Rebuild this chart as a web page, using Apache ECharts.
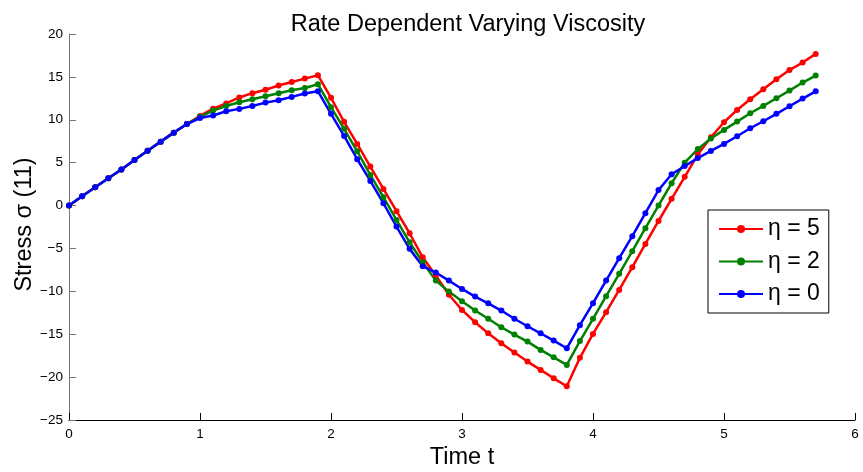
<!DOCTYPE html>
<html>
<head>
<meta charset="utf-8">
<script src="https://cdn.jsdelivr.net/npm/echarts@6/dist/echarts.min.js"></script>
<style>html,body{margin:0;padding:0;background:#fff;}#c{width:863px;height:472px;}</style>
</head>
<body>
<div id="c"></div>
<script>
var titleText = 'Rate Dependent Varying Viscosity';
var xName = 'Time t';
var yName = 'Stress \u03c3 (11)';
var seriesNames = ['\u03b7 = 5', '\u03b7 = 2', '\u03b7 = 0'];
var seriesColors = ['#ff0000', '#008000', '#0000ff'];

var time = [0.0,0.1,0.2,0.3,0.4,0.5,0.6,0.7,0.8,0.9,
            1.0,1.1,1.2,1.3,1.4,1.5,1.6,1.7,1.8,1.9,
            2.0,2.1,2.2,2.3,2.4,2.5,2.6,2.7,2.8,2.9,
            3.0,3.1,3.2,3.3,3.4,3.5,3.6,3.7,3.8,3.9,
            4.0,4.1,4.2,4.3,4.4,4.5,4.6,4.7,4.8,4.9,
            5.0,5.1,5.2,5.3,5.4,5.5,5.6,5.7];

var eta5 = [0, 1.08, 2.14, 3.18, 4.2, 5.3, 6.4, 7.45, 8.5, 9.5,
            10.45, 11.3, 11.9, 12.6, 13.1, 13.5, 14.0, 14.4, 14.8, 15.2,
            12.56, 9.76, 7.19, 4.55, 1.94, -0.66, -3.23, -6.03, -8.16, -10.4,
            -12.17, -13.6, -14.9, -16.06, -17.14, -18.19, -19.16, -20.14, -21.07, -17.75,
            -14.96, -12.43, -9.83, -7.19, -4.47, -1.8, 0.78, 3.35, 5.95, 7.96,
            9.71, 11.15, 12.39, 13.56, 14.72, 15.8, 16.67, 17.68];

var eta2 = [0, 1.08, 2.14, 3.18, 4.2, 5.3, 6.4, 7.45, 8.5, 9.5,
            10.35, 11.07, 11.6, 12.05, 12.4, 12.75, 13.1, 13.45, 13.7, 14.15,
            11.47, 8.94, 6.33, 3.57, 0.97, -1.67, -4.28, -6.61, -8.75, -10.03,
            -11.16, -12.24, -13.2, -14.19, -15.04, -15.86, -16.83, -17.69, -18.58, -15.8,
            -13.2, -10.57, -7.96, -5.32, -2.64, 0.0, 2.6, 5.0, 6.58, 7.81,
            8.82, 9.79, 10.76, 11.62, 12.51, 13.4, 14.34, 15.15];

var eta0 = [0, 1.08, 2.14, 3.18, 4.2, 5.3, 6.4, 7.45, 8.5, 9.5,
            10.2, 10.5, 11.0, 11.27, 11.6, 12.0, 12.28, 12.67, 13.06, 13.33,
            10.69, 8.12, 5.4, 2.87, 0.27, -2.45, -5.05, -7.07, -7.81, -8.75,
            -9.72, -10.61, -11.4, -12.24, -13.2, -14.07, -14.89, -15.74, -16.64, -13.95,
            -11.38, -8.74, -6.14, -3.57, -0.89, 1.8, 3.65, 4.6, 5.53, 6.37,
            7.19, 8.08, 9.01, 9.83, 10.69, 11.58, 12.47, 13.32];

var xTicks = {min: 0, max: 6, interval: 1};
var yTicks = {min: -25, max: 20, interval: 5};

var font = '"Liberation Sans", Arial, Helvetica, sans-serif';
var allValues = [eta5, eta2, eta0];

function pairs(vals) {
  return time.map(function (t, i) { return [t, vals[i]]; });
}
function minusFmt(v) { return String(v).replace('-', '\u2212'); }

var series = allValues.map(function (vals, k) {
  return {
    name: seriesNames[k],
    type: 'line',
    data: pairs(vals),
    symbol: 'circle',
    symbolSize: 6,
    showSymbol: true,
    showAllSymbol: true,
    color: seriesColors[k],
    lineStyle: {width: 2.5, color: seriesColors[k]},
    itemStyle: {color: seriesColors[k]},
    emphasis: {disabled: true},
    animation: false
  };
});

var chart = echarts.init(document.getElementById('c'), null, {renderer: 'canvas'});
chart.setOption({
  animation: false,
  backgroundColor: '#ffffff',
  textStyle: {fontFamily: font},
  title: {
    text: titleText,
    left: 463, top: 7.5, textAlign: 'center',
    textStyle: {fontFamily: font, fontSize: 23.5, fontWeight: 'normal', color: '#000'}
  },
  grid: {left: 69, right: 8, top: 34, bottom: 52, containLabel: false, outerBoundsMode: 'none'},
  legend: {
    orient: 'vertical',
    left: 708, top: 210,
    padding: [7.5, 9, 7.5, 10],
    itemGap: 9.5,
    itemWidth: 44,
    itemHeight: 10,
    backgroundColor: '#ffffff',
    borderColor: '#000000',
    borderWidth: 1,
    borderRadius: 0,
    selectedMode: false,
    textStyle: {fontFamily: font, fontSize: 23, color: '#000'},
    data: seriesNames
  },
  xAxis: {
    type: 'value',
    min: xTicks.min, max: xTicks.max, interval: xTicks.interval,
    name: xName, nameLocation: 'middle', nameGap: 20,
    nameTextStyle: {fontFamily: font, fontSize: 23.5, color: '#000'},
    axisLine: {show: true, onZero: false, lineStyle: {color: '#000', width: 1}},
    axisTick: {show: true, inside: true, length: 7, lineStyle: {color: '#000'}},
    axisLabel: {show: true, margin: 7, fontSize: 13.5, color: '#000', fontFamily: font},
    splitLine: {show: false}
  },
  yAxis: {
    type: 'value',
    min: yTicks.min, max: yTicks.max, interval: yTicks.interval,
    name: yName, nameLocation: 'middle', nameGap: 32, nameMoveOverlap: false,
    nameTextStyle: {fontFamily: font, fontSize: 23.5, color: '#000', padding: [0, 0, 0, 5]},
    axisLine: {show: true, onZero: false, lineStyle: {color: '#777', width: 1}},
    axisTick: {show: true, inside: true, length: 7, lineStyle: {color: '#777'}},
    axisLabel: {show: true, margin: 6, fontSize: 13.5, color: '#000', fontFamily: font, formatter: minusFmt},
    splitLine: {show: false}
  },
  series: series
});
</script>
</body>
</html>
